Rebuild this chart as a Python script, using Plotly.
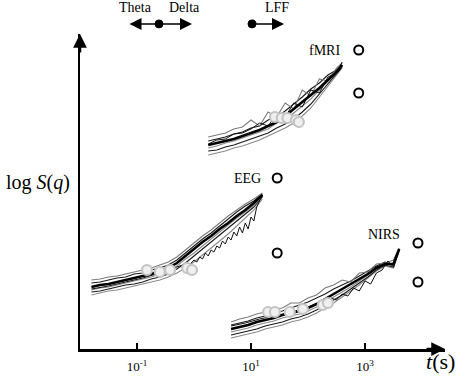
import numpy as np
import plotly.graph_objects as go

# ---------------- data (x as log10 t[s], y in arbitrary log S(q) units) ----------------
eeg_x = [-1.8,-1.65,-1.5,-1.35,-1.2,-1.05,-0.9,-0.75,-0.6,-0.45,-0.3,-0.15,0.0,0.15,0.3,0.45,0.6,0.75,0.9,1.05,1.2]
eeg_mean = [6.2,6.4,6.5,6.7,6.9,7.1,7.3,7.5,7.8,8.1,8.6,9.3,10.0,10.7,11.3,12.0,12.6,13.3,13.9,14.6,15.4]
eeg_a = [6.9,7.0,7.2,7.3,7.5,7.7,7.9,8.1,8.4,8.7,9.2,9.9,10.6,11.3,11.9,12.6,13.3,13.9,14.5,15.0,15.6]
eeg_b = [6.6,6.7,6.9,7.1,7.2,7.5,7.6,7.9,8.1,8.4,8.9,9.6,10.3,11.0,11.6,12.3,13.0,13.7,14.3,14.8,15.5]
eeg_c = [5.9,6.1,6.2,6.4,6.6,6.8,7.0,7.2,7.5,7.8,8.3,9.0,9.6,10.3,11.0,11.7,12.4,13.1,13.7,14.4,15.3]
eeg_d = [5.7,5.8,6.0,6.2,6.4,6.5,6.7,7.0,7.2,7.5,8.0,8.6,9.3,10.0,10.7,11.4,12.1,12.8,13.5,14.2,15.2]
eeg_e = [5.4,5.6,5.8,5.9,6.1,6.3,6.5,6.7,6.9,7.2,7.6,8.1,8.7,9.4,10.1,10.8,11.5,12.3,13.1,13.9,15.0]
eeg_f_x = [-1.8,-1.5,-1.2,-0.9,-0.6,-0.45,-0.3,-0.2,-0.1,0.0,0.05,0.1,0.15,0.2,0.25,0.3,0.35,0.4,0.45,0.5,0.55,0.6,0.65,0.7,0.75,0.8,0.85,0.9,0.95,1.0,1.05,1.1,1.2]
eeg_f = [6.0,6.3,6.7,7.1,7.6,7.8,8.2,8.4,8.3,8.9,8.7,9.2,9.0,9.6,9.3,9.9,9.7,10.3,10.1,10.8,10.5,11.2,10.9,11.7,11.3,12.2,11.6,12.6,12.0,13.2,12.8,14.2,15.4]

fmri_x = [0.25,0.4,0.55,0.7,0.85,1.0,1.15,1.3,1.45,1.6,1.75,1.9,2.05,2.2,2.35,2.5,2.6]
fmri_mean = [20.4,20.6,20.8,21.0,21.3,21.6,21.9,22.3,22.7,23.3,24.0,24.7,25.4,26.1,26.9,27.7,28.4]
fmri_a = [21.2,21.4,21.6,22.0,22.2,22.9,22.3,23.7,23.2,24.6,24.0,25.9,25.3,27.0,26.8,28.1,28.6]
fmri_b = [20.8,21.0,21.2,21.5,21.7,22.1,22.3,22.9,23.2,23.8,24.5,25.2,26.0,26.6,27.4,27.9,28.4]
fmri_c = [20.1,20.3,20.6,20.8,21.1,21.4,21.7,22.0,22.6,22.9,23.6,24.3,25.0,25.9,26.8,27.6,28.3]
fmri_d = [19.8,19.9,20.2,20.4,20.7,21.0,21.3,21.6,22.1,22.5,23.0,23.7,24.5,25.5,26.5,27.5,28.2]
fmri_e = [19.4,19.6,19.8,20.1,20.3,20.6,20.9,21.3,21.7,22.1,22.6,23.3,24.1,25.2,26.3,27.4,28.1]
fmri_f = [20.5,20.9,21.0,21.5,21.6,22.0,22.6,22.3,23.5,23.2,24.6,24.2,25.9,25.6,27.2,27.6,28.7]

nirs_x = [0.65,0.8,0.95,1.1,1.25,1.4,1.55,1.7,1.85,2.0,2.15,2.3,2.45,2.6,2.75,2.9,3.05,3.2,3.35,3.5,3.6]
nirs_mean = [2.0,2.2,2.4,2.7,2.9,3.1,3.4,3.6,3.8,4.1,4.5,5.0,5.5,6.0,6.5,7.0,7.5,8.1,8.5,8.5,10.0]
nirs_a = [2.7,3.0,3.2,3.5,3.7,4.0,4.1,4.6,4.6,5.1,5.4,6.1,6.4,6.9,6.7,7.6,7.7,8.5,8.6,8.9,10.1]
nirs_b = [2.4,2.6,2.8,3.1,3.3,3.6,3.8,4.1,4.4,4.7,5.1,5.5,6.0,6.4,6.8,7.3,7.8,8.3,8.7,8.4,10.0]
nirs_c = [1.7,1.9,2.1,2.4,2.6,2.8,3.1,3.3,3.5,3.8,4.2,4.7,5.2,5.7,6.2,6.8,7.4,8.0,8.5,8.3,9.9]
nirs_d = [1.4,1.6,1.8,2.0,2.3,2.5,2.7,3.0,3.2,3.5,3.9,4.4,4.9,5.4,6.0,6.6,7.2,7.9,8.4,8.2,9.9]
nirs_e = [1.1,1.3,1.5,1.7,2.0,2.2,2.4,2.7,2.9,3.2,3.6,4.1,4.6,5.2,5.8,6.4,7.1,7.8,8.3,8.1,9.8]
nirs_f_x = [0.65,0.9,1.15,1.4,1.65,1.9,2.1,2.2,2.3,2.4,2.5,2.6,2.7,2.8,2.9,3.0,3.1,3.2,3.3,3.4,3.5,3.6]
nirs_f = [2.3,2.6,3.0,3.3,3.6,4.0,4.4,4.6,4.5,5.1,4.9,5.5,5.3,6.1,5.8,6.8,6.5,7.6,7.9,8.8,8.2,10.0]

# gray (filled) circles on the curves
eeg_dots_x = [-0.825,-0.6,-0.42,-0.12,-0.035]
eeg_dots_y = [7.9,7.7,7.9,8.1,7.9]
fmri_dots_x = [1.42,1.54,1.64,1.79,1.84]
fmri_dots_y = [23.2,23.1,23.1,22.9,22.7]
nirs_dots_x = [1.30,1.42,1.68,1.91,2.26,2.35]
nirs_dots_y = [3.7,3.7,3.7,4.0,4.4,4.6]

# open circles
open_x = [2.89,2.89,1.46,1.46,3.93,3.93]
open_y = [29.9,25.6,17.1,9.6,10.6,6.7]

labels = ["fMRI","EEG","NIRS"]
label_x = [2.6,1.21,3.65]
label_y = [29.9,17.1,11.5]

tick_vals = [0.1,10,1000]
tick_text = ["10<sup>-1</sup>","10<sup>1</sup>","10<sup>3</sup>"]

band_labels = ["Theta","Delta","LFF"]
band_label_x = [-1.035,-0.175,1.456]
band_dots_x = [-0.614,1.018]

X_RANGE = [-2.0, 4.404]
Y_RANGE = [0.0, 31.5]
SERIF = "Liberation Serif, Times New Roman, serif"

def t(v):
    return [10 ** a for a in v]

def xpaper(lg):
    return (lg - X_RANGE[0]) / (X_RANGE[1] - X_RANGE[0])

fig = go.Figure()

def add_line(x, y, color, width):
    fig.add_trace(go.Scatter(x=t(x), y=y, mode="lines",
                             line=dict(color=color, width=width), hoverinfo="skip"))

groups = [
    (eeg_x, [eeg_e, eeg_d, eeg_c, eeg_b, eeg_a], eeg_f_x, eeg_f, eeg_mean),
    (fmri_x, [fmri_e, fmri_d, fmri_c, fmri_b, fmri_a], fmri_x, fmri_f, fmri_mean),
    (nirs_x, [nirs_e, nirs_d, nirs_c, nirs_b, nirs_a], nirs_f_x, nirs_f, nirs_mean),
]
cols = ["#8a8a8a", "#1a1a1a", "#8a8a8a", "#1a1a1a", "#7a7a7a"]
for gx, lines, fx, fy, mean in groups:
    for ln, c in zip(lines, cols):
        add_line(gx, ln, c, 1.1)
    add_line(fx, fy, "#111111", 1.0)
    add_line(gx, mean, "#000000", 2.6)

for dx, dy in [(eeg_dots_x, eeg_dots_y), (fmri_dots_x, fmri_dots_y), (nirs_dots_x, nirs_dots_y)]:
    fig.add_trace(go.Scatter(x=t(dx), y=dy, mode="markers",
                             marker=dict(size=10, color="#f0f0f0", line=dict(color="#c4c4c4", width=2.2)),
                             hoverinfo="skip"))

fig.add_trace(go.Scatter(x=t(open_x), y=open_y, mode="markers", cliponaxis=False,
                         marker=dict(size=9, color="white", line=dict(color="black", width=2)),
                         hoverinfo="skip"))

annotations = []
for txt, lx, ly in zip(labels, label_x, label_y):
    annotations.append(dict(x=lx, y=ly, xref="x", yref="y", text=txt, showarrow=False,
                            xanchor="right", yanchor="middle",
                            font=dict(family=SERIF, size=14, color="black")))

# axis arrow heads
annotations.append(dict(x=1, y=0, xref="paper", yref="paper", ax=-20, ay=0, text="",
                        showarrow=True, arrowhead=2, arrowsize=1.1, arrowwidth=2.5,
                        arrowcolor="black", standoff=0))
annotations.append(dict(x=0, y=1, xref="paper", yref="paper", ax=0, ay=20, text="",
                        showarrow=True, arrowhead=2, arrowsize=1.1, arrowwidth=2.5,
                        arrowcolor="black", standoff=0))

# axis titles
annotations.append(dict(x=-0.116, y=0.53, xref="paper", yref="paper",
                        text="log <i>S</i>(<i>q</i>)", showarrow=False,
                        xanchor="center", yanchor="middle",
                        font=dict(family=SERIF, size=20, color="black")))
annotations.append(dict(x=1.032, y=-0.041, xref="paper", yref="paper",
                        text="<i>t</i>(s)", showarrow=False,
                        xanchor="right", yanchor="middle",
                        font=dict(family=SERIF, size=22, color="black")))

# band labels and arrows
for txt, bx in zip(band_labels, band_label_x):
    annotations.append(dict(x=bx, y=1.083, xref="x", yref="paper", text=txt, showarrow=False,
                            xanchor="center", yanchor="middle",
                            font=dict(family=SERIF, size=14, color="black")))
ARROW_Y = 1.032
annotations.append(dict(x=-0.035, y=ARROW_Y, xref="x", yref="paper", ax=-1.158, ay=0,
                        axref="x", ayref="pixel", text="", showarrow=True, arrowhead=2,
                        arrowside="end+start", arrowsize=1.6, arrowwidth=1.5,
                        arrowcolor="black", standoff=0, startstandoff=0))
annotations.append(dict(x=1.579, y=ARROW_Y, xref="x", yref="paper", ax=1.018, ay=0,
                        axref="x", ayref="pixel", text="", showarrow=True, arrowhead=2,
                        arrowsize=1.6, arrowwidth=1.5, arrowcolor="black", standoff=0))

shapes = []
for bx in band_dots_x:
    shapes.append(dict(type="circle", xref="paper", yref="paper",
                       xsizemode="pixel", ysizemode="pixel",
                       xanchor=xpaper(bx), yanchor=ARROW_Y,
                       x0=-4, x1=4, y0=-4, y1=4,
                       fillcolor="black", line=dict(color="black", width=1)))

fig.update_layout(
    width=457, height=382,
    margin=dict(l=80, r=12, t=34, b=33, pad=0, autoexpand=False),
    plot_bgcolor="white", paper_bgcolor="white",
    showlegend=False,
    annotations=annotations, shapes=shapes,
    xaxis=dict(type="log", range=X_RANGE, showgrid=False, zeroline=False, automargin=False,
               showline=True, linecolor="black", linewidth=2.5,
               ticks="inside", ticklen=6, tickwidth=2, tickcolor="black",
               tickvals=tick_vals, ticktext=tick_text, ticklabelstandoff=4,
               tickfont=dict(family=SERIF, size=13, color="black")),
    yaxis=dict(range=Y_RANGE, showgrid=False, zeroline=False, automargin=False,
               showline=True, linecolor="black", linewidth=2.5,
               showticklabels=False, ticks=""),
)

fig.write_html("out.html", config={"displayModeBar": False, "staticPlot": True},
               post_script="document.body.style.margin='0px';document.body.style.overflow='hidden';")
